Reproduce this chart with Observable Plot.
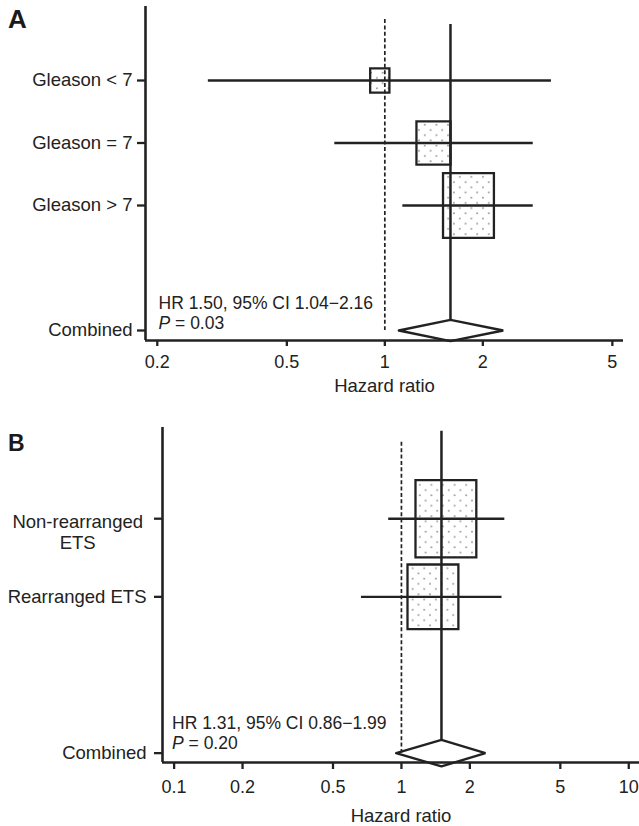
<!DOCTYPE html>
<html>
<head>
<meta charset="utf-8">
<script src="https://cdn.jsdelivr.net/npm/d3@7"></script>
<script src="https://cdn.jsdelivr.net/npm/@observablehq/plot@0.6"></script>
<style>
  body { margin: 0; background: #fff; font-family: "Liberation Sans", Arial, sans-serif; }
  .panel { position: relative; width: 639px; }
  .letter { position: absolute; left: 8px; font-weight: bold; line-height: 1; color: #1a1a1a; }
  svg { display: block; }
</style>
</head>
<body>
<svg width="0" height="0" style="position:absolute">
  <defs>
    <pattern id="dots" patternUnits="userSpaceOnUse" width="11.6" height="10.4">
      <rect width="11.6" height="10.4" fill="#fff"></rect>
      <circle cx="2.9" cy="2.6" r="0.85" fill="#8a8a8a"></circle>
      <circle cx="8.7" cy="7.8" r="0.85" fill="#8a8a8a"></circle>
    </pattern>
  </defs>
</svg>
<div class="panel" id="panelA" style="height:400px"><div class="letter" style="top:6px;font-size:26px">A</div></div>
<div class="panel" id="panelB" style="height:426px"><div class="letter" style="top:32px;font-size:23px">B</div></div>
<script>
// ---------- Data ----------
// Panel A: Gleason score subgroups
const gleasonLabels = ["Gleason < 7", "Gleason = 7", "Gleason > 7"];
const gleasonHR = [0.965, 1.411, 1.807];
const gleasonLo = [0.287, 0.702, 1.136];
const gleasonHi = [3.25, 2.857, 2.857];
const gleasonWeight = [7, 22, 49];

// Panel B: ETS status subgroups
const etsLabels = ["Non-rearranged\nETS", "Rearranged ETS"];
const etsHR = [1.569, 1.376];
const etsLo = [0.879, 0.667];
const etsHi = [2.85, 2.77];
const etsWeight = [70, 49];

// Combined estimates (as drawn) for A and B
const combinedLabel = "Combined";
const combinedHR = [1.591, 1.50];
const combinedLo = [1.104, 0.948];
const combinedHi = [2.311, 2.342];
const summaryText = ["HR 1.50, 95% CI 1.04\u22122.16", "HR 1.31, 95% CI 0.86\u22121.99"];
const pText = ["P = 0.03", "P = 0.20"];

// Axis ticks
const ticksA = [0.2, 0.5, 1, 2, 5];
const ticksB = [0.1, 0.2, 0.5, 1, 2, 5, 10];
const xLabel = "Hazard ratio";

// ---------- Drawing ----------
const ink = "#222";
const boxSymbol = {
  draw(ctx, size) {
    const w = Math.sqrt(size / 1.27), h = w * 1.27;
    ctx.moveTo(-w / 2, -h / 2);
    ctx.lineTo(w / 2, -h / 2);
    ctx.lineTo(w / 2, h / 2);
    ctx.lineTo(-w / 2, h / 2);
    ctx.closePath();
  }
};

function forest(cfg) {
  const {labels, hr, lo, hi, weight, k, ticks, layout} = cfg;
  const rows = labels.map((label, i) => ({label, row: i, hr: hr[i], lo: lo[i], hi: hi[i], w: weight[i]}));
  const cr = labels.length + 1;
  const h = 0.17;
  const diamond = [
    {x: combinedLo[k], y: cr}, {x: combinedHR[k], y: cr - h},
    {x: combinedHi[k], y: cr}, {x: combinedHR[k], y: cr + h},
    {x: combinedLo[k], y: cr}
  ];
  const tickRows = rows.map(d => d.row).concat([cr]);
  const labelFor = (r) => {
    if (r === cr) return combinedLabel;
    return (layout.specialRow === r) ? "" : labels[r];
  };
  const marks = [
    Plot.dot(rows, {x: "hr", y: "row", r: "w", symbol: boxSymbol, fill: "url(#dots)", stroke: ink, strokeWidth: 2.3}),
    Plot.ruleY(rows, {y: "row", x1: "lo", x2: "hi", stroke: ink, strokeWidth: 2.4}),
    Plot.ruleX([1], {y1: () => layout.dashTop, y2: () => cr, stroke: ink, strokeWidth: 1.7, strokeDasharray: "4,2.4"}),
    Plot.ruleX([combinedHR[k]], {y1: () => layout.solidTop, y2: () => cr - h, stroke: ink, strokeWidth: 2.5}),
    Plot.line(diamond, {x: "x", y: "y", stroke: ink, strokeWidth: 2.4, strokeLinejoin: "miter"}),
    Plot.ruleX([layout.xDomain[0]], {stroke: ink, strokeWidth: 2.6}),
    Plot.ruleY([layout.yDomain[0]], {stroke: ink, strokeWidth: 2.6}),
    Plot.axisX({ticks, tickFormat: d => String(d), tickSize: layout.xTickSize, tickPadding: layout.xTickPadding, strokeWidth: 2.3, fontSize: 18, label: null, color: ink}),
    Plot.axisY({ticks: tickRows, tickFormat: labelFor, tickSize: 8, tickPadding: layout.yTickPadding, strokeWidth: 2.3, fontSize: 18.5, label: null, color: ink}),
    Plot.text([xLabel], {text: d => d, frameAnchor: "bottom", dy: layout.labelDy, lineAnchor: "top", fontSize: 18.5, fill: ink}),
    Plot.text([summaryText[k] + "\n" + pText[k]], {text: d => d, frameAnchor: "bottom-left", dx: layout.noteDx, dy: layout.noteDy, textAnchor: "start", lineAnchor: "middle", lineHeight: 1.16, fontSize: 17.5, fill: ink})
  ];
  if (layout.specialRow != null) {
    marks.push(Plot.text([layout.specialRow], {y: d => d, text: d => labels[d], frameAnchor: "left", dx: layout.specialDx, dy: -6.4, textAnchor: "middle", lineAnchor: "top", lineHeight: 1.17, fontSize: 18.5, fill: ink}));
  }
  const svg = Plot.plot({
    width: 639,
    height: layout.height,
    marginLeft: layout.marginLeft,
    marginRight: layout.marginRight,
    marginTop: layout.marginTop,
    marginBottom: layout.marginBottom,
    style: {fontFamily: "'Liberation Sans', Arial, sans-serif", background: "transparent", overflow: "visible", color: ink},
    x: {type: "log", domain: layout.xDomain},
    y: {type: "linear", domain: layout.yDomain},
    r: {type: "sqrt", domain: [0, 70], range: [0, 38.67]},
    marks
  });
  // italic P in the p-value line
  svg.querySelectorAll("text, tspan").forEach(el => {
    if (el.childElementCount === 0 && el.textContent === pText[k]) {
      const rest = el.textContent.slice(1);
      el.textContent = "";
      const it = document.createElementNS("http://www.w3.org/2000/svg", "tspan");
      it.setAttribute("font-style", "italic");
      it.textContent = "P";
      el.append(it, rest);
    }
  });
  return svg;
}

document.getElementById("panelA").append(forest({
  labels: gleasonLabels, hr: gleasonHR, lo: gleasonLo, hi: gleasonHi, weight: gleasonWeight, k: 0, ticks: ticksA,
  layout: {
    height: 400, marginLeft: 145, marginRight: 16, marginTop: 6, marginBottom: 60,
    xDomain: [0.184, 5.41], yDomain: [4.16, -1.184],
    dashTop: -0.976, solidTop: -0.896,
    xTickSize: 6, xTickPadding: 9, yTickPadding: 5, labelDy: 38,
    noteDx: 13, noteDy: -28, specialRow: null
  }
}));

document.getElementById("panelB").append(forest({
  labels: etsLabels, hr: etsHR, lo: etsLo, hi: etsHi, weight: etsWeight, k: 1, ticks: ticksB,
  layout: {
    height: 426, marginLeft: 162, marginRight: 0, marginTop: 27, marginBottom: 64,
    xDomain: [0.0889, 11.15], yDomain: [3.12, -1.167],
    dashTop: -0.978, solidTop: -1.12,
    xTickSize: 7, xTickPadding: 11, yTickPadding: 8, labelDy: 46,
    noteDx: 9.5, noteDy: -30, specialRow: 0, specialDx: -84.8
  }
}));
</script>
</body>
</html>
